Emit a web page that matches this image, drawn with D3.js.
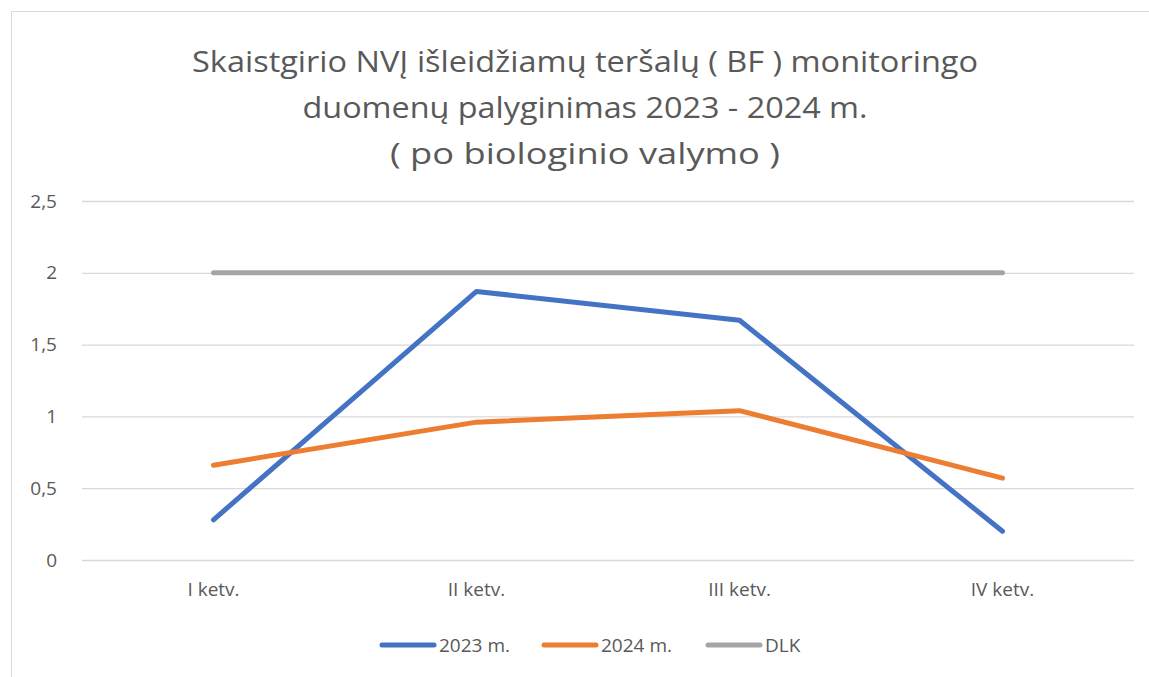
<!DOCTYPE html>
<html><head><meta charset="utf-8">
<script src="https://cdn.jsdelivr.net/npm/d3@7"></script>
<style>body{margin:0;background:#fff}svg{display:block}</style>
</head><body>
<svg id="c" width="1149" height="677"></svg>
<script>
const categories = ["I ketv.", "II ketv.", "III ketv.", "IV ketv."];
const s2023 = [0.28, 1.87, 1.67, 0.20];
const s2024 = [0.66, 0.96, 1.04, 0.57];
const sDLK = [2, 2, 2, 2];
const seriesNames = ["2023 m.", "2024 m.", "DLK"];
const yTicks = [0, 0.5, 1, 1.5, 2, 2.5];
const titleLines = ["Skaistgirio NVĮ išleidžiamų teršalų ( BF ) monitoringo", "duomenų palyginimas 2023 - 2024 m.", "( po biologinio valymo )"];
const colors = ["#4472C4", "#ED7D31", "#A5A5A5"];

const svg = d3.select("#c");
const font = "'Open Sans', 'Liberation Sans', sans-serif";
const txt = "#595959";

svg.append("rect").attr("x", 11.5).attr("y", 11.5).attr("width", 1160).attr("height", 700)
  .attr("fill", "#fff").attr("stroke", "#D9D9D9").attr("stroke-width", 1);

const x = d3.scaleBand().domain(categories).range([82, 1134]);
const y = d3.scaleLinear().domain([0, 2.5]).range([560, 201]);

// title
const tw = [786, 565, 390];
svg.append("g").selectAll("text").data(titleLines).join("text")
  .attr("x", 585).attr("y", (d, i) => 72 + i * 46)
  .attr("text-anchor", "middle").attr("font-family", font).attr("font-size", 30)
  .attr("fill", txt).text(d => d)
  .each(function(d, i) {
    const len = this.getComputedTextLength();
    if (len > 0) d3.select(this).attr("textLength", tw[i]).attr("lengthAdjust", "spacingAndGlyphs");
  });

// grid
const yAxis = d3.axisLeft(y).tickValues(yTicks).tickSize(-(1134 - 82)).tickPadding(25)
  .tickFormat(d => String(d).replace(".", ","));
const gy = svg.append("g").attr("transform", "translate(82,0)").call(yAxis);
gy.select(".domain").remove();
gy.selectAll(".tick line").attr("stroke", "#D9D9D9").attr("stroke-width", 1.3);
gy.selectAll(".tick text").attr("font-family", font).attr("font-size", 19).attr("fill", txt);

const xAxis = d3.axisBottom(x).tickSize(0).tickPadding(23);
const gx = svg.append("g").attr("transform", "translate(0,560)").call(xAxis);
gx.select(".domain").remove();
gx.selectAll(".tick text").attr("font-family", font).attr("font-size", 19).attr("fill", txt);

const line = d3.line().x((d, i) => x(categories[i]) + x.bandwidth() / 2).y(d => y(d));
const all = [s2023, s2024, sDLK];
[2, 0, 1].forEach(k => {
  svg.append("path").datum(all[k]).attr("d", line).attr("fill", "none")
    .attr("stroke", colors[k]).attr("stroke-width", 5).attr("stroke-linecap", "round").attr("stroke-linejoin", "round");
});

// legend
const legX = [382, 544, 708];
const lg = svg.append("g");
seriesNames.forEach((n, i) => {
  lg.append("line").attr("x1", legX[i]).attr("x2", legX[i] + 52).attr("y1", 645).attr("y2", 645)
    .attr("stroke", colors[i]).attr("stroke-width", 5).attr("stroke-linecap", "round");
  lg.append("text").attr("x", legX[i] + 57).attr("y", 652).attr("font-family", font).attr("font-size", 19)
    .attr("fill", txt).text(n);
});
</script>
</body></html>
